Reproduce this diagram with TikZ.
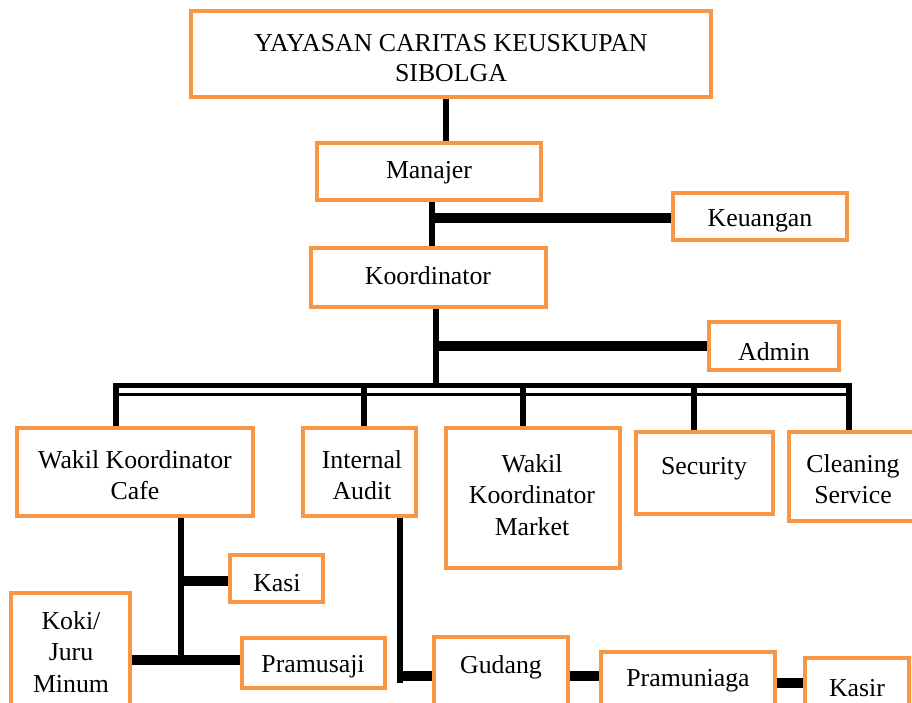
\documentclass[tikz,border=0pt]{standalone}
\usepackage{fontspec}
\setmainfont{Liberation Serif}
\usetikzlibrary{fit}
\definecolor{boxorange}{HTML}{F79646}
\begin{document}
\begin{tikzpicture}[x=1pt,y=-1pt,
  obox/.style={draw=boxorange, line width=3.5pt, inner sep=0pt, rectangle},
  txt/.style={align=center, inner sep=0pt, yshift=-3pt, font=\fontsize{25.8}{31.5}\selectfont},
  vline/.style={line width=6pt, black},
  hline/.style={line width=10pt, black},
  busline/.style={line width=5pt, black},
]
\useasboundingbox (0,0) rectangle (912,702);
\fill[white] (0,0) rectangle (912,702);

% boxes
\node[obox, fit={(191,11) (711,97)}] (yay) {};
\node[obox, fit={(317,143) (541,200)}] (man) {};
\node[obox, fit={(673,193) (847,240)}] (keu) {};
\node[obox, fit={(311,248) (546,307)}] (kor) {};
\node[obox, fit={(709,322) (839,370)}] (adm) {};
\node[obox, fit={(17,428) (253,516)}] (cafe) {};
\node[obox, fit={(303,428) (416,516)}] (ia) {};
\node[obox, fit={(446,428) (620,568)}] (mk) {};
\node[obox, fit={(636,432) (773,514)}] (sec) {};
\node[obox, fit={(789,432) (930,521)}] (cln) {};
\node[obox, fit={(230,555) (323,602)}] (kasi) {};
\node[obox, fit={(11,593) (130,712)}] (koki) {};
\node[obox, fit={(242,638) (385,688)}] (pram) {};
\node[obox, fit={(434,637) (568,715)}] (gud) {};
\node[obox, fit={(601,652) (775,715)}] (prn) {};
\node[obox, fit={(805,658) (909,715)}] (ksr) {};

% texts
\node[txt] (yayt) at (451,55) {YAYASAN CARITAS KEUSKUPAN\\[-1.5pt]SIBOLGA};
\node[txt] (mant) at (429,170) {Manajer};
\node[txt] (keut) at (760,218) {Keuangan};
\node[txt] (kort) at (428,273) {Koordinator};
\node[txt] (admt) at (774,349) {Admin};
\node[txt] (cafet) at (135,472) {Wakil Koordinator\\Cafe};
\node[txt] (iat) at (362,472) {Internal\\Audit};
\node[txt] (mkt) at (532,492) {Wakil\\Koordinator\\Market};
\node[txt] (sect) at (704,466) {Security};
\node[txt] (clnt) at (853,476) {Cleaning\\Service};
\node[txt] (kasit) at (277,580) {Kasi};
\node[txt] (kokit) at (71,649) {Koki/\\Juru\\Minum};
\node[txt] (pramt) at (313,664) {Pramusaji};
\node[txt] (gudt) at (501,664) {Gudang};
\node[txt] (prnt) at (688,678) {Pramuniaga};
\node[txt] (ksrt) at (857,685) {Kasir};

% junction coordinates
\coordinate (j1) at (432,218);
\coordinate (j2) at (436,346);
\coordinate (busL) at (114,385);
\coordinate (busR) at (851,385);
\coordinate (busL2) at (117,394);
\coordinate (busR2) at (851,394);
\coordinate (cafeB) at (181,660);
\coordinate (cafeK) at (181,581);
\coordinate (iaB) at (400,683);
\coordinate (iaG) at (400,676);

% connectors
\draw[vline] (yay.south -| 446,0) -- (man.north -| 446,0);
\draw[vline] (man.south -| 432,0) -- (kor.north -| 432,0);
\draw[hline] (j1) -- (keu.west |- j1);
\draw[vline] (kor.south -| 436,0) -- (436,385);
\draw[hline] (j2) -- (adm.west |- j2);
\draw[busline] (busL) -- (busR);
\draw[line width=3pt] (busL2) -- (busR2);
\draw[vline] (116,383) -- (cafe.north -| 116,0);
\draw[vline] (364,385) -- (ia.north -| 364,0);
\draw[vline] (523,385) -- (mk.north -| 523,0);
\draw[vline] (694,385) -- (sec.north -| 694,0);
\draw[vline] (849,383) -- (cln.north -| 849,0);
\draw[vline] (cafe.south -| 181,0) -- (181,663);
\draw[hline] (cafeK) -- (kasi.west |- cafeK);
\draw[hline] (koki.east |- cafeB) -- (pram.west |- cafeB);
\draw[vline] (ia.south -| 400,0) -- (iaB);
\draw[hline] (397,676) -- (gud.west |- iaG);
\draw[hline] (gud.east |- 0,676) -- (prn.west |- 0,676);
\draw[hline] (prn.east |- 0,683) -- (ksr.west |- 0,683);
\end{tikzpicture}
\end{document}
